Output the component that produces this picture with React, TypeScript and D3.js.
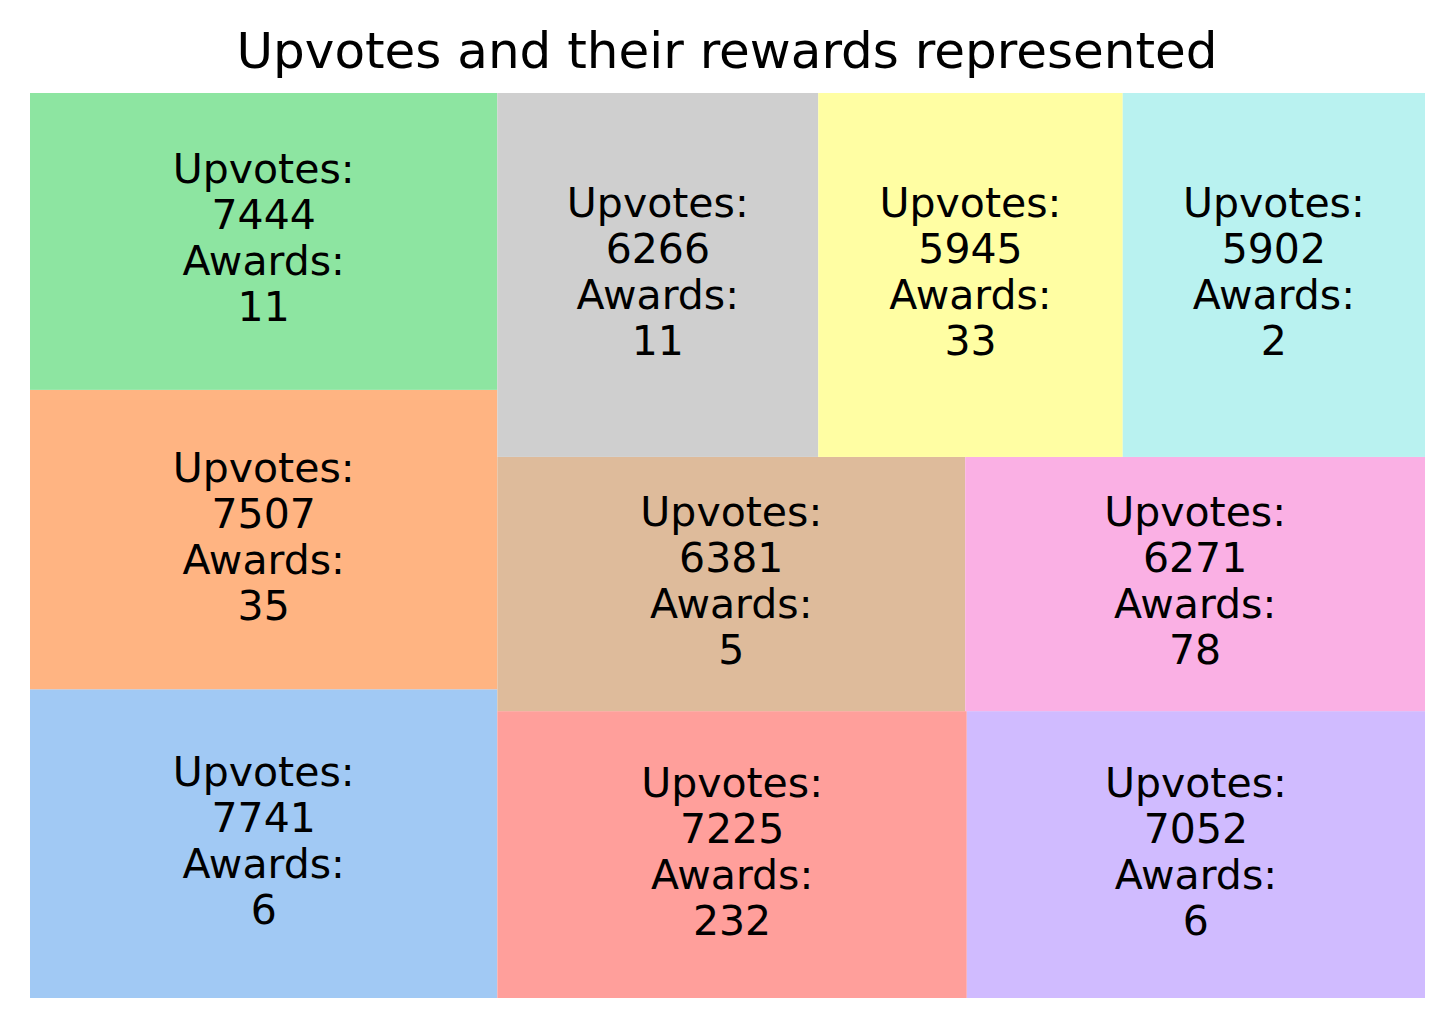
import React from 'react'
import * as d3 from 'd3'

const upvotes = [7741, 7507, 7444, 7225, 7052, 6381, 6271, 6266, 5945, 5902]
const awards = [6, 35, 11, 232, 6, 5, 78, 11, 33, 2]
const colors = ['#a1c9f4', '#ffb482', '#8de5a1', '#ff9f9b', '#d0bbff',
  '#debb9b', '#fab0e4', '#cfcfcf', '#fffea3', '#b9f2f0']

type Rect = { x: number; y: number; dx: number; dy: number }

// same steps as python squarify, in a 100 x 100 box
function layout(sizes: number[], x: number, y: number, dx: number, dy: number): Rect[] {
  const covered = d3.sum(sizes)
  const out: Rect[] = []
  if (dx >= dy) {
    const w = covered / dy
    for (const s of sizes) { out.push({ x, y, dx: w, dy: s / w }); y += s / w }
  } else {
    const h = covered / dx
    for (const s of sizes) { out.push({ x, y, dx: s / h, dy: h }); x += s / h }
  }
  return out
}

function leftover(sizes: number[], x: number, y: number, dx: number, dy: number): [number, number, number, number] {
  const covered = d3.sum(sizes)
  if (dx >= dy) {
    const w = covered / dy
    return [x + w, y, dx - w, dy]
  }
  const h = covered / dx
  return [x, y + h, dx, dy - h]
}

function worst(sizes: number[], x: number, y: number, dx: number, dy: number) {
  return d3.max(layout(sizes, x, y, dx, dy), r => Math.max(r.dx / r.dy, r.dy / r.dx)) as number
}

function squarify(sizes: number[], x: number, y: number, dx: number, dy: number): Rect[] {
  if (sizes.length === 0) return []
  if (sizes.length === 1) return layout(sizes, x, y, dx, dy)
  let i = 1
  while (i < sizes.length && worst(sizes.slice(0, i), x, y, dx, dy) >= worst(sizes.slice(0, i + 1), x, y, dx, dy)) i++
  const current = sizes.slice(0, i)
  const rest = sizes.slice(i)
  const [lx, ly, ldx, ldy] = leftover(current, x, y, dx, dy)
  return layout(current, x, y, dx, dy).concat(squarify(rest, lx, ly, ldx, ldy))
}

export default function App() {
  const width = 1455, height = 1029
  const total = d3.sum(upvotes)
  const norm = upvotes.map(v => v * 100 * 100 / total)
  const rects = squarify(norm, 0, 0, 100, 100)

  const xs = d3.scaleLinear().domain([0, 100]).range([30, 1425])
  const ys = d3.scaleLinear().domain([0, 100]).range([998, 93])

  const font = 'DejaVu Sans, sans-serif'
  const fs = 41
  const lh = 46

  return (
    <svg width={width} height={height} style={{ position: 'absolute', left: 0, top: 0 }}>
      <rect width={width} height={height} fill="#fff" />
      <text x={727} y={68} textAnchor="middle" fontFamily={font} fontSize={50}>
        Upvotes and their rewards represented
      </text>
      {rects.map((r, i) => {
        const x0 = xs(r.x), x1 = xs(r.x + r.dx)
        const y0 = ys(r.y + r.dy), y1 = ys(r.y)
        const cx = (x0 + x1) / 2, cy = (y0 + y1) / 2
        const lines = ['Upvotes:', String(upvotes[i]), 'Awards:', String(awards[i])]
        return (
          <g key={i}>
            <rect x={x0} y={y0} width={x1 - x0} height={y1 - y0} fill={colors[i]} />
            <text textAnchor="middle" fontFamily={font} fontSize={fs}>
              {lines.map((l, j) => (
                <tspan key={j} x={cx} y={cy - 58 + j * lh}>{l}</tspan>
              ))}
            </text>
          </g>
        )
      })}
    </svg>
  )
}
